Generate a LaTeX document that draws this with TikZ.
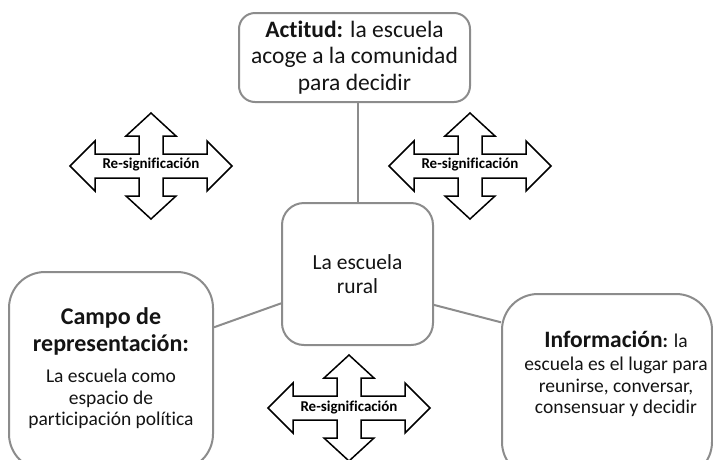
\documentclass[tikz,border=0pt]{standalone}
\usepackage{fontspec}
\setmainfont{Carlito}[Ligatures=NoCommon]
\definecolor{bordegris}{RGB}{140,140,140}
\definecolor{texto}{RGB}{20,20,20}
\tikzset{
  caja/.style={draw=bordegris, line width=2pt, rounded corners=#1, fill=white,
    inner sep=0pt, text=texto, align=center},
  caja/.default=20pt,
  rotulo/.style={align=center, text=texto, inner sep=0pt},
  enlace/.style={draw=bordegris, line width=2pt},
  cruz/.style={draw=black, line width=1.5pt, fill=white, line join=miter},
}
\begin{document}
\begin{tikzpicture}[x=1pt,y=-1pt]
		\useasboundingbox (0,0) rectangle (713,459);
		\clip (0,0) rectangle (713,459);
		
		% cajas
		\node[caja=16pt, minimum width=231pt, minimum height=89pt,
		  font=\fontsize{23.5}{26.5}\selectfont] (actitud) at (354.5,57.5)
		  {\textbf{Actitud:} la escuela\\ acoge a la comunidad\\ para decidir};
		\node[caja=22pt, minimum width=151pt, minimum height=142pt,
		  font=\fontsize{21.5}{24}\selectfont] (escuela) at (357.5,274) {La escuela\\ rural};
		\node[caja=36pt, minimum width=204pt, minimum height=198pt] (campo) at (111,371) {};
		\node[caja=36pt, minimum width=210pt, minimum height=184pt] (info) at (607,386) {};
		
		% textos de las cajas de abajo
		\node[rotulo, font=\bfseries\fontsize{24}{27}\selectfont] (campotit) at (111,331.5)
		  {Campo de\\ representación:};
		\node[rotulo, font=\fontsize{19.5}{21.5}\selectfont] (campotxt) at (111,399)
		  {La escuela como\\ espacio de\\ participación política};
		\node[rotulo, font=\fontsize{19.5}{21.5}\selectfont] (infotxt) at (616,374)
		  {{\bfseries\fontsize{23.5}{26}\selectfont Información}\textbf{:} la\\[2pt]
		   escuela es el lugar para\\ reunirse, conversar,\\ consensuar y decidir};
		
		% enlaces
		\draw[enlace] (escuela.north) -- (escuela.north |- actitud.south);
		\draw[enlace] (campo.23) -- (escuela.201);
		\draw[enlace] (info.149) -- (escuela.-22);
		
		% flechas de re-significacion
		\foreach \nm/\px/\py in {resigA/151/166, resigB/470/166, resigC/349/408}{
		  \begin{scope}[shift={(\px,\py)}]
		    \draw[cruz] (81,0) -- (56,-25) -- (56,-12) -- (12,-12) -- (12,-30) -- (25,-30)
		      -- (0,-53) -- (-25,-30) -- (-12,-30) -- (-12,-12) -- (-56,-12) -- (-56,-25)
		      -- (-81,0) -- (-56,25) -- (-56,12) -- (-12,12) -- (-12,30) -- (-25,30)
		      -- (0,53) -- (25,30) -- (12,30) -- (12,12) -- (56,12) -- (56,25) -- cycle;
		    \node[font=\bfseries\fontsize{15}{17}\selectfont] (\nm) at (0,-1) {Re-significación};
		  \end{scope}
		}
	\end{tikzpicture}
\end{document}
